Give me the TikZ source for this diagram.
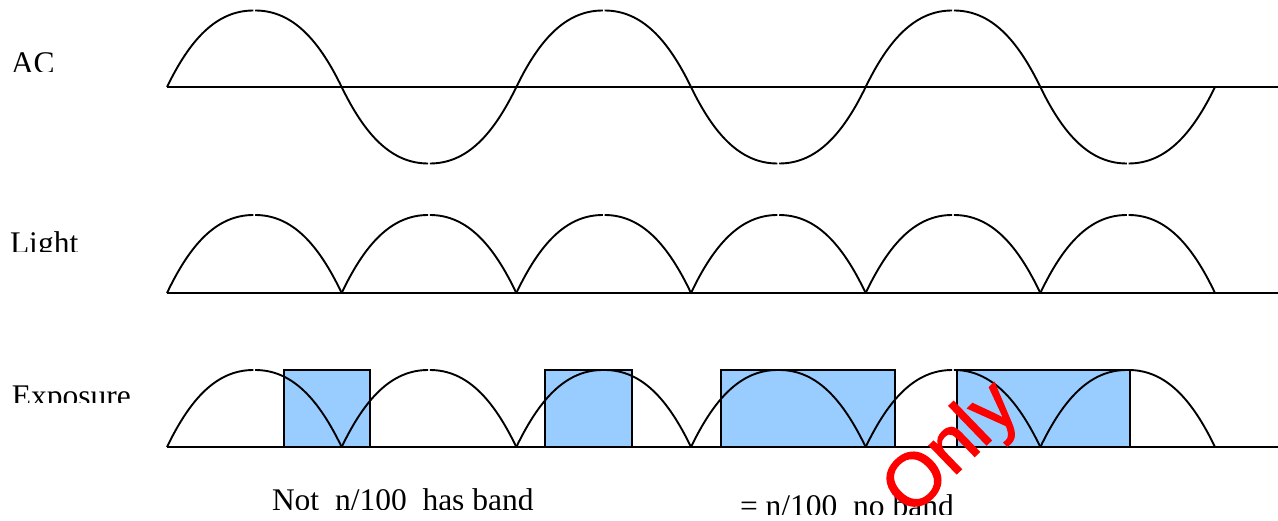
\documentclass[tikz,border=0pt]{standalone}
\usepackage{fontspec}
\setmainfont{Liberation Serif}
\newfontfamily\wmfont[FakeBold=1.5]{Liberation Sans}
\definecolor{expblue}{RGB}{153,204,255}
\definecolor{wmred}{RGB}{255,0,0}
\newcommand{\myharc}[3]{% x0, axis y, signed amplitude (positive = up)
  \draw[curve] (#1,#2) .. controls ({#1+23},{#2-0.619*(#3)}) and ({#1+49.3},{#2-(#3)}) .. ({#1+86.43},{#2-(#3)});
  \draw[curve] ({#1+88.23},{#2-(#3)}) .. controls ({#1+125.37},{#2-(#3)}) and ({#1+151.67},{#2-0.619*(#3)}) .. ({#1+174.667},#2);
}
\begin{document}
\begin{tikzpicture}[x=1pt,y=-1pt,
  curve/.style={line width=1.9pt,black},
  axisline/.style={line width=2pt,black},
  expbox/.style={fill=expblue,draw=black,line width=1.9pt},
  lbl/.style={font=\fontsize{31.5}{36}\selectfont,anchor=base west,inner sep=0pt,outer sep=0pt},
  wm/.style={font=\wmfont\fontsize{75}{80}\selectfont,text=wmred,anchor=base west,inner sep=0pt,outer sep=0pt,rotate=44}]
\useasboundingbox (0,0) rectangle (1278,521);
% ---- Exposure boxes (under the arcs)
\path[expbox] (284,370) rectangle (370,447);
\path[expbox] (545,370) rectangle (632,447);
\path[expbox] (721,370) rectangle (895,447);
\path[expbox] (957,370) rectangle (1130,447);
% ---- axes
\draw[axisline] (167,87) -- (1278,87);
\draw[axisline] (167,293) -- (1278,293);
\draw[axisline] (167,447) -- (1278,447);
% ---- curves
\foreach \k in {0,...,5}{
  \pgfmathsetmacro{\xa}{167+\k*174.667}
  \pgfmathsetmacro{\amp}{(1-2*mod(\k,2))*76.5}
  \myharc{\xa}{87}{\amp}
  \myharc{\xa}{293}{78}
  \myharc{\xa}{447}{77}
}
% ---- labels (clipped as in the reference)
\begin{scope}
  \clip (0,30) rectangle (52,72);
  \node[lbl] (ac) at (11,73.5) {AC};
\end{scope}
\begin{scope}
  \clip (0,215) rectangle (77,252);
  \node[lbl] (light) at (10,253.5) {Light};
\end{scope}
\begin{scope}
  \clip (0,365) rectangle (130,403);
  \node[lbl] (exposure) at (12,406.5) {Exposure};
\end{scope}
\begin{scope}
  \clip (260,470) rectangle (535,509);
  \node[lbl] (notn) at (272,510.5) {Not~~n/100~~has band};
\end{scope}
\begin{scope}
  \clip (730,470) rectangle (956,514);
  \node[lbl] (eqn) at (740,516) {=~n/100~~no band};
\end{scope}
% ---- watermark
\node[wm] (only) at (911,518) {Only};
\end{tikzpicture}
\end{document}
